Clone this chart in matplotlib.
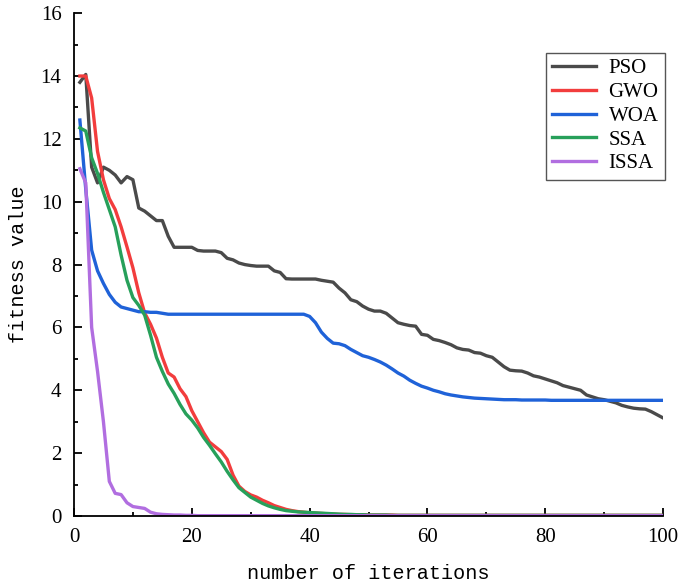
import matplotlib
matplotlib.use('Agg')
import matplotlib.pyplot as plt
from matplotlib.ticker import MultipleLocator

# iterations 1..100
iters = list(range(1, 101))

pso = [13.8, 14.05, 11.1, 10.6, 11.1, 11.0, 10.85, 10.6, 10.8, 10.7,
       9.8, 9.7, 9.55, 9.4, 9.4, 8.9, 8.55, 8.55, 8.55, 8.55,
       8.45, 8.43, 8.43, 8.43, 8.38, 8.2, 8.15, 8.05, 8.0, 7.97,
       7.95, 7.95, 7.95, 7.8, 7.75, 7.55, 7.54, 7.54, 7.54, 7.54,
       7.54, 7.5, 7.47, 7.44, 7.25, 7.1, 6.88, 6.82, 6.68, 6.58,
       6.52, 6.52, 6.45, 6.3, 6.15, 6.1, 6.06, 6.04, 5.78, 5.75,
       5.62, 5.58, 5.52, 5.45, 5.35, 5.3, 5.28, 5.2, 5.18, 5.1,
       5.05, 4.9, 4.75, 4.64, 4.62, 4.61, 4.55, 4.46, 4.42, 4.36,
       4.3, 4.24, 4.15, 4.1, 4.05, 4.0, 3.85, 3.79, 3.73, 3.7,
       3.65, 3.6, 3.52, 3.47, 3.43, 3.41, 3.4, 3.32, 3.22, 3.12]

gwo = [14.0, 14.0, 13.3, 11.6, 10.7, 10.1, 9.75, 9.2, 8.56, 7.9,
       7.1, 6.46, 6.1, 5.66, 5.05, 4.55, 4.42, 4.05, 3.8, 3.35,
       3.0, 2.65, 2.35, 2.2, 2.05, 1.8, 1.3, 0.95, 0.78, 0.67,
       0.6, 0.5, 0.42, 0.33, 0.27, 0.21, 0.17, 0.14, 0.12, 0.1,
       0.09, 0.08, 0.07, 0.06, 0.05, 0.05, 0.04, 0.04, 0.04, 0.03,
       0.03, 0.03, 0.03, 0.03, 0.02, 0.02, 0.02, 0.02, 0.02, 0.02,
       0.02, 0.02, 0.02, 0.02, 0.02, 0.02, 0.02, 0.02, 0.02, 0.02,
       0.02, 0.02, 0.02, 0.02, 0.02, 0.02, 0.02, 0.02, 0.02, 0.02,
       0.02, 0.02, 0.02, 0.02, 0.02, 0.02, 0.02, 0.02, 0.02, 0.02,
       0.02, 0.02, 0.02, 0.02, 0.02, 0.02, 0.02, 0.02, 0.02, 0.02]

woa = [12.6, 10.4, 8.46, 7.8, 7.4, 7.05, 6.8, 6.65, 6.6, 6.55,
       6.5, 6.5, 6.48, 6.48, 6.45, 6.42, 6.42, 6.42, 6.42, 6.42,
       6.42, 6.42, 6.42, 6.42, 6.42, 6.42, 6.42, 6.42, 6.42, 6.42,
       6.42, 6.42, 6.42, 6.42, 6.42, 6.42, 6.42, 6.42, 6.42, 6.35,
       6.15, 5.85, 5.65, 5.5, 5.48, 5.42, 5.3, 5.2, 5.1, 5.05,
       4.98, 4.9, 4.8, 4.68, 4.55, 4.45, 4.32, 4.22, 4.13, 4.07,
       4.0, 3.95, 3.89, 3.85, 3.82, 3.79, 3.77, 3.75, 3.74, 3.73,
       3.72, 3.71, 3.7, 3.7, 3.7, 3.69, 3.69, 3.69, 3.69, 3.69,
       3.68, 3.68, 3.68, 3.68, 3.68, 3.68, 3.68, 3.68, 3.68, 3.68,
       3.68, 3.68, 3.68, 3.68, 3.68, 3.68, 3.68, 3.68, 3.68, 3.68]

ssa = [12.35, 12.25, 11.4, 10.9, 10.3, 9.75, 9.2, 8.3, 7.5, 6.95,
       6.7, 6.39, 5.75, 5.05, 4.6, 4.2, 3.9, 3.55, 3.25, 3.05,
       2.8, 2.5, 2.25, 1.98, 1.72, 1.42, 1.15, 0.9, 0.75, 0.6,
       0.5, 0.4, 0.32, 0.26, 0.21, 0.17, 0.15, 0.13, 0.12, 0.11,
       0.1, 0.09, 0.08, 0.07, 0.06, 0.05, 0.05, 0.04, 0.04, 0.03,
       0.03, 0.03, 0.03, 0.02, 0.02, 0.02, 0.02, 0.02, 0.02, 0.02,
       0.02, 0.02, 0.02, 0.02, 0.02, 0.02, 0.02, 0.02, 0.02, 0.02,
       0.02, 0.02, 0.02, 0.02, 0.02, 0.02, 0.02, 0.02, 0.02, 0.02,
       0.02, 0.02, 0.02, 0.02, 0.02, 0.02, 0.02, 0.02, 0.02, 0.02,
       0.02, 0.02, 0.02, 0.02, 0.02, 0.02, 0.02, 0.02, 0.02, 0.02]

issa = [11.05, 10.6, 6.0, 4.6, 3.0, 1.1, 0.72, 0.68, 0.42, 0.3,
        0.27, 0.24, 0.12, 0.07, 0.05, 0.04, 0.03, 0.03, 0.02, 0.02,
        0.01, 0.01, 0.01, 0.01, 0.01, 0.01, 0.01, 0.01, 0.01, 0.01,
        0.01, 0.01, 0.01, 0.01, 0.01, 0.01, 0.01, 0.01, 0.01, 0.01,
        0.01, 0.01, 0.01, 0.01, 0.01, 0.01, 0.01, 0.01, 0.01, 0.01,
        0.01, 0.01, 0.01, 0.01, 0.01, 0.01, 0.01, 0.01, 0.01, 0.01,
        0.01, 0.01, 0.01, 0.01, 0.01, 0.01, 0.01, 0.01, 0.01, 0.01,
        0.01, 0.01, 0.01, 0.01, 0.01, 0.01, 0.01, 0.01, 0.01, 0.01,
        0.01, 0.01, 0.01, 0.01, 0.01, 0.01, 0.01, 0.01, 0.01, 0.01,
        0.01, 0.01, 0.01, 0.01, 0.01, 0.01, 0.01, 0.01, 0.01, 0.01]

names = ['PSO', 'GWO', 'WOA', 'SSA', 'ISSA']
colors = ['#4a4a4a', '#f23d3d', '#1f62d8', '#27a05a', '#b16ee0']

plt.rcParams['font.family'] = 'Liberation Serif'

fig = plt.figure(figsize=(6.85, 5.86), dpi=100)
ax = fig.add_axes([0.108, 0.1195, 0.86, 0.858])

for vals, name, c in zip([pso, gwo, woa, ssa, issa], names, colors):
    ax.plot(iters, vals, color=c, lw=2.4, label=name)

ax.set_xlim(0, 100)
ax.set_ylim(0, 16)
ax.xaxis.set_major_locator(MultipleLocator(20))
ax.xaxis.set_minor_locator(MultipleLocator(10))
ax.yaxis.set_major_locator(MultipleLocator(2))
ax.yaxis.set_minor_locator(MultipleLocator(1))
ax.tick_params(which='both', direction='in', width=1.3, labelsize=15)
ax.tick_params(which='major', length=6)
ax.tick_params(which='minor', length=3)
ax.tick_params(axis='x', pad=9)
ax.tick_params(axis='y', pad=9)
ax.spines['top'].set_visible(False)
ax.spines['right'].set_visible(False)
ax.spines['left'].set_linewidth(1.3)
ax.spines['bottom'].set_linewidth(1.3)

ax.set_xlabel('number of iterations', family='Liberation Mono', fontsize=14.5, labelpad=12)
ax.set_ylabel('fitness value', family='Liberation Mono', fontsize=14.5, labelpad=9)

leg = ax.legend(loc='upper right', bbox_to_anchor=(1.01, 0.93), fontsize=15,
                fancybox=False, edgecolor='#555555', framealpha=1,
                handlelength=2.1, handletextpad=0.6, labelspacing=0.2,
                borderpad=0.3, borderaxespad=0.2)
leg.get_frame().set_linewidth(1.0)

fig.savefig('out.png', dpi=100)
